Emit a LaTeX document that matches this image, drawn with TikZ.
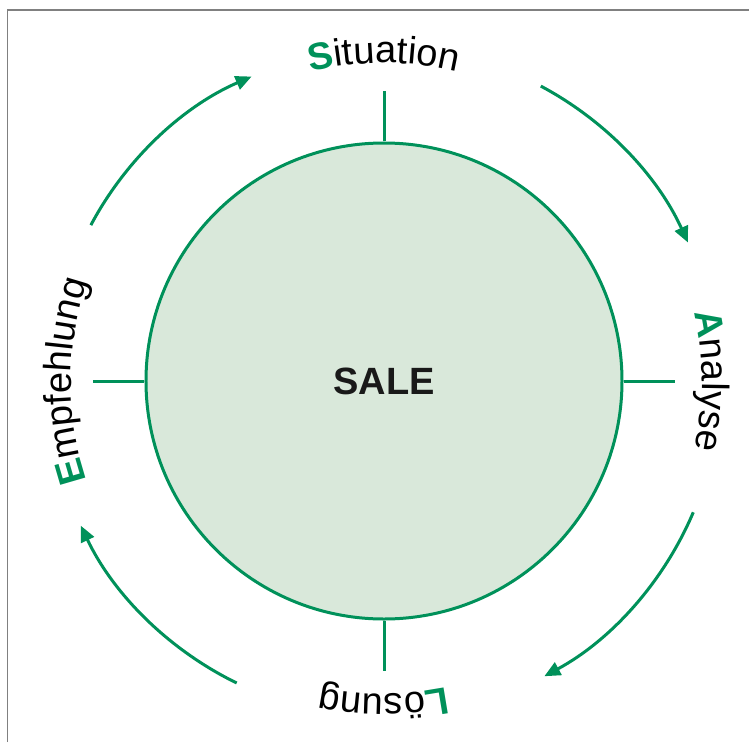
\documentclass[tikz,border=0pt]{standalone}
\usepackage{fontspec}
\setmainfont{Liberation Sans}
\usetikzlibrary{decorations.text,arrows.meta}
\definecolor{sgreen}{HTML}{00915A}
\definecolor{sfill}{HTML}{D9E8DA}
\definecolor{frame}{HTML}{808080}
\newcommand{\lblfont}{\fontsize{38}{44}\selectfont}
\tikzset{
  frameline/.style={draw=frame, line width=1.6pt},
  core/.style={circle, draw=sgreen, fill=sfill, line width=3pt, minimum size=476pt, inner sep=0pt},
  tickline/.style={draw=sgreen, line width=3pt},
  cyclearrow/.style={draw=sgreen, line width=3pt, -{Triangle[length=16pt,width=14pt]}},
  curvedlabel/.style={decorate, decoration={text along path, text align=center, text={#1}}}
}
\begin{document}
\begin{tikzpicture}[x=1pt,y=1pt]
\useasboundingbox (-384,-361) rectangle (365,381);
% frame
\coordinate (fb) at (-376.5,-361);
\coordinate (fc) at (-376.5,371);
\coordinate (fr) at (365,371);
\draw[frameline] (fb) -- (fc) -- (fr);
% central circle
\node[core] (c) at (0,0) {};
\node[font=\bfseries\fontsize{38}{44}\selectfont, text=black!90] (sale) at (0,0) {SALE};
% ticks
\coordinate (tn) at (0,290);
\coordinate (te) at (291,0);
\coordinate (ts) at (0,-290);
\coordinate (tw) at (-291,0);
\draw[tickline] (c.north) -- (tn);
\draw[tickline] (c.east) -- (te);
\draw[tickline] (c.south) -- (ts);
\draw[tickline] (c.west) -- (tw);
% arrows
\coordinate (a1) at (152:332);
\coordinate (a2) at (62:334);
\coordinate (a3) at (-23:336);
\coordinate (a4) at (-116:336);
\draw[cyclearrow] (a1) arc[start angle=152, end angle=113.5, radius=332];
\draw[cyclearrow] (a2) arc[start angle=62, end angle=24.5, radius=334];
\draw[cyclearrow] (a3) arc[start angle=-23, end angle=-61.5, radius=336];
\draw[cyclearrow] (a4) arc[start angle=-116, end angle=-154.5, radius=336];
% labels along the circle
\coordinate (l1) at (130:318);
\coordinate (l2) at (40:318);
\coordinate (l3) at (-50:313);
\coordinate (l4) at (-140:313);
\path[curvedlabel={|\lblfont\bfseries\color{sgreen}|S|\lblfont\mdseries\color{black}|ituation}]
  (l1) arc[start angle=130, end angle=50, radius=318];
\path[curvedlabel={|\lblfont\bfseries\color{sgreen}|A|\lblfont\mdseries\color{black}|nalyse}]
  (l2) arc[start angle=40, end angle=-40, radius=318];
\path[curvedlabel={|\lblfont\bfseries\color{sgreen}|L|\lblfont\mdseries\color{black}|ösung}]
  (l3) arc[start angle=-50, end angle=-130, radius=313];
\path[curvedlabel={|\lblfont\bfseries\color{sgreen}|E|\lblfont\mdseries\color{black}|mpfehlung}]
  (l4) arc[start angle=220, end angle=140, radius=313];
\end{tikzpicture}
\end{document}
